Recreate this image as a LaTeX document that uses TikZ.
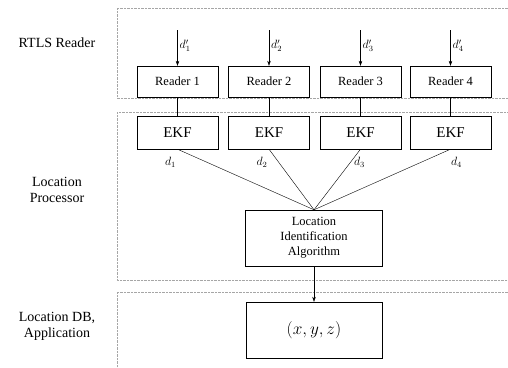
\documentclass[tikz,border=0pt]{standalone}
\usepackage{fontspec}
\setmainfont{Liberation Serif}
\usetikzlibrary{arrows.meta}
\begin{document}
\begin{tikzpicture}[x=1pt,y=-1pt,
  box/.style={draw,minimum width=81pt,minimum height=31pt,inner sep=0pt,font=\fontsize{12.5}{13.5}\selectfont},
  ekfbox/.style={box,minimum height=33pt,font=\fontsize{15}{16}\selectfont},
  panel/.style={draw=gray!70,densely dotted},
  side/.style={align=center,font=\fontsize{14}{16}\selectfont},
  arr/.style={-{Stealth[length=5pt,width=3.5pt]}}]
\useasboundingbox (0,0) rectangle (508,367);
%panels
\draw[panel] (117,8) rectangle (515,98);
\draw[panel] (117,112) rectangle (515,280);
\draw[panel] (117,292) rectangle (515,375);
%side labels
\node[side] (sreader) at (57,43) {RTLS Reader};
\node[side] (sproc) at (57,190) {Location\\Processor};
\node[side] (sdb) at (57,326) {Location DB,\\Application};
%readers and EKF
\foreach \i/\x/\dx in {1/177.5/-7,2/269/-7,3/360.5/-1,4/450.5/6}{
  \coordinate (in\i) at (\x,30);
  \node[box] (reader\i) at (\x,81.5) {Reader \i};
  \node[ekfbox] (ekf\i) at (\x,132.5) {EKF};
  \draw[arr] (in\i) -- (reader\i.north);
  \node[anchor=west,inner sep=1pt,font=\large] (din\i) at (\x+1,46) {$d'_{\i}$};
  \draw (reader\i.south) -- (ekf\i.north);
  \node[font=\large] (dout\i) at (\x+\dx,162) {$d_{\i}$};
}
%algorithm
\node[box,minimum width=137pt,minimum height=56pt,align=center,font=\fontsize{12.5}{15}\selectfont] (alg) at (314,238)
  {Location\\Identification\\Algorithm};
\foreach \i in {1,...,4}{
  \draw (ekf\i.south) -- (alg.north);
}
%result
\node[box,minimum width=136pt,minimum height=56pt,font=\fontsize{17}{18}\selectfont] (xyz) at (314,330) {$(x, y, z)$};
\draw[arr] (alg.south) -- (xyz.north);
\end{tikzpicture}
\end{document}
